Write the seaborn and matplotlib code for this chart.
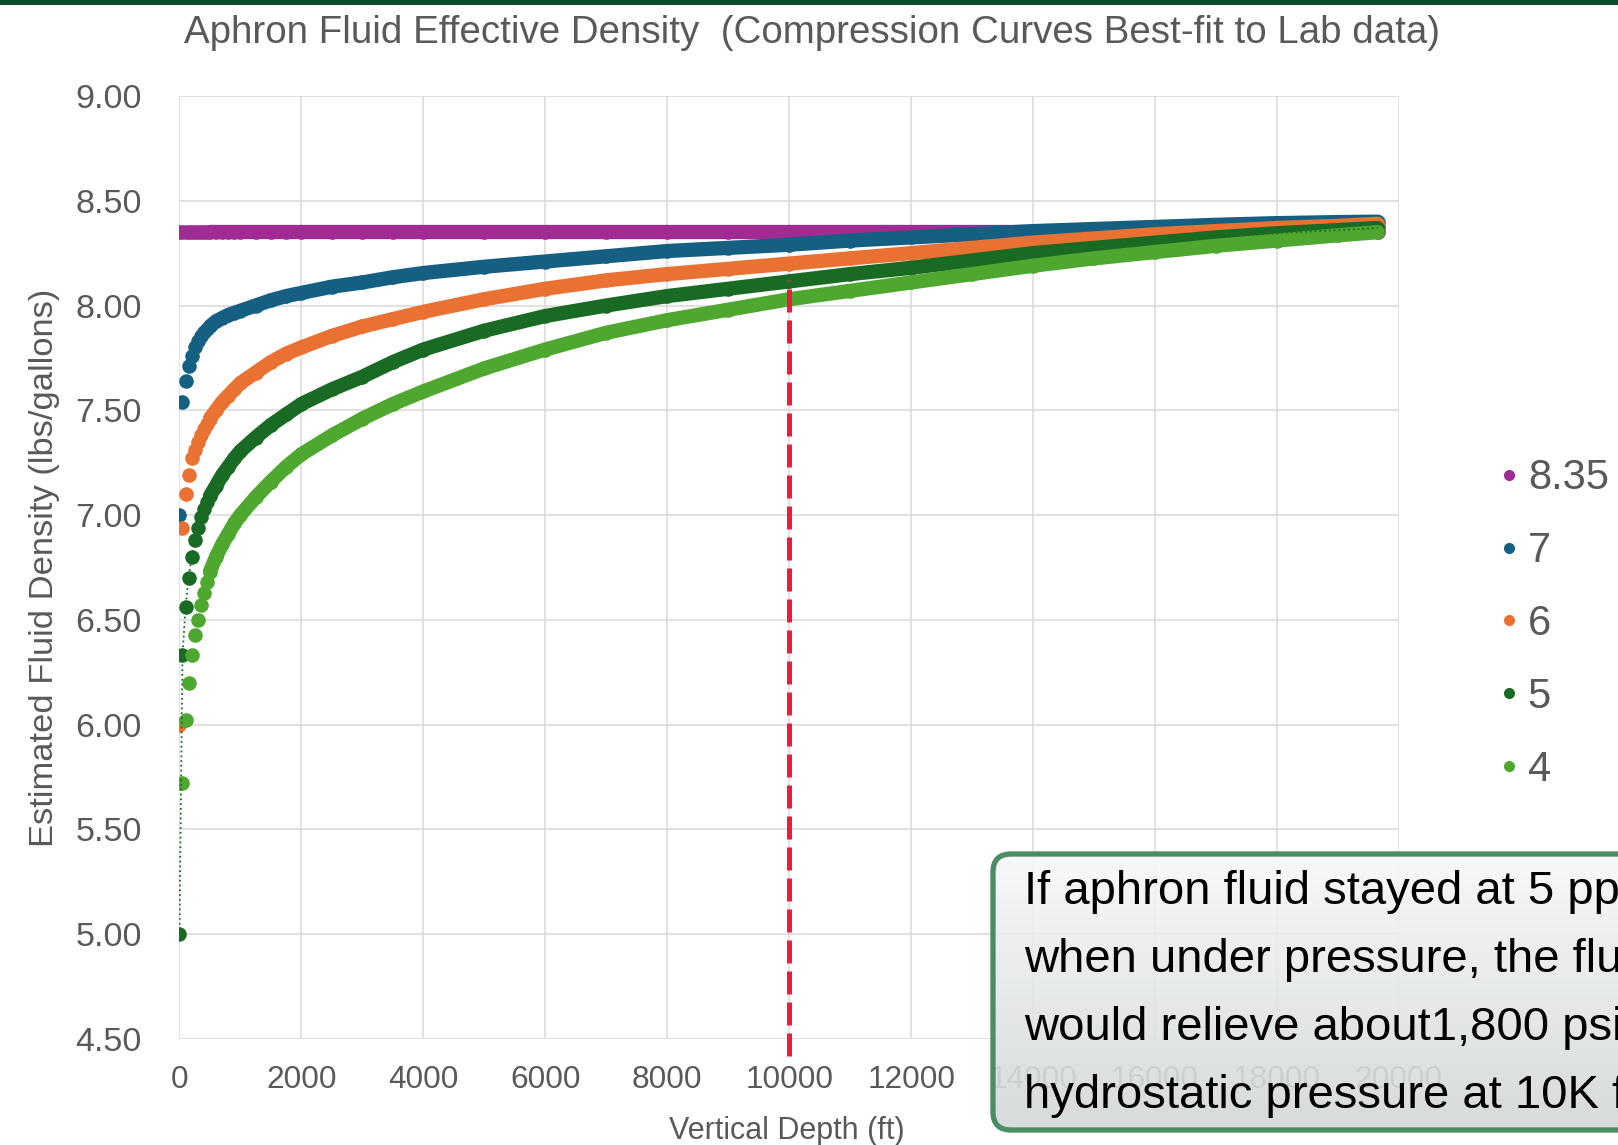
import numpy as np
import pandas as pd
import matplotlib
matplotlib.use("Agg")
import matplotlib.pyplot as plt
import seaborn as sns
from matplotlib.patches import FancyBboxPatch, Rectangle
from matplotlib.lines import Line2D
from matplotlib.colors import LinearSegmentedColormap

# depth points (ft) shared by every curve
depth_ft = [0, 50, 100, 150, 200, 250, 300, 350, 400, 450, 500,
            600, 700, 800, 900, 1000, 1250, 1500, 1750, 2000, 2500, 3000, 3500, 4000,
            5000, 6000, 7000, 8000, 9000, 10000, 11000, 12000, 13000, 14000, 15000,
            16000, 17000, 18000, 19000, 19650]

# estimated fluid density (lbs/gal), per surface density
density_7 = [7.00, 7.54, 7.64, 7.71, 7.76, 7.80, 7.83, 7.855, 7.875, 7.89, 7.90,
             7.925, 7.94, 7.955, 7.965, 7.975, 8.00, 8.025, 8.045, 8.06, 8.09, 8.11, 8.135, 8.155,
             8.185, 8.21, 8.235, 8.26, 8.275, 8.29, 8.31, 8.325, 8.34, 8.355, 8.365,
             8.375, 8.385, 8.393, 8.398, 8.40]
density_6 = [6.00, 6.94, 7.10, 7.19, 7.27, 7.31, 7.35, 7.38, 7.41, 7.435, 7.46,
             7.50, 7.54, 7.57, 7.60, 7.63, 7.68, 7.73, 7.77, 7.80, 7.855, 7.90, 7.935, 7.97,
             8.03, 8.08, 8.12, 8.15, 8.175, 8.20, 8.225, 8.25, 8.275, 8.30, 8.32,
             8.34, 8.355, 8.37, 8.38, 8.39]
density_5 = [5.00, 6.33, 6.56, 6.70, 6.80, 6.88, 6.94, 6.99, 7.03, 7.06, 7.09,
             7.14, 7.19, 7.23, 7.27, 7.305, 7.37, 7.43, 7.48, 7.53, 7.60, 7.66, 7.73, 7.79,
             7.88, 7.95, 8.00, 8.045, 8.08, 8.115, 8.15, 8.18, 8.215, 8.25, 8.275,
             8.30, 8.325, 8.345, 8.36, 8.37]
density_4 = [4.00, 5.72, 6.02, 6.20, 6.33, 6.43, 6.50, 6.57, 6.63, 6.68, 6.73,
             6.80, 6.86, 6.91, 6.96, 7.00, 7.085, 7.16, 7.23, 7.29, 7.38, 7.46, 7.53, 7.59,
             7.70, 7.79, 7.87, 7.93, 7.98, 8.03, 8.07, 8.11, 8.15, 8.19, 8.225,
             8.255, 8.285, 8.31, 8.335, 8.35]
density_835 = [8.35] * len(depth_ft)  # plain water, constant

series_labels = ["8.35", "7", "6", "5", "4"]
series_values = [density_835, density_7, density_6, density_5, density_4]
series_colors = ["#A02B93", "#156082", "#E97132", "#196B24", "#4EA72E"]

x_ticks = list(range(0, 20001, 2000))
y_ticks = [4.5, 5.0, 5.5, 6.0, 6.5, 7.0, 7.5, 8.0, 8.5, 9.0]

ref_depth = 10000
ref_bottom, ref_top = 4.42, 8.12

note_lines = ["If aphron fluid stayed at 5 ppg",
              "when under pressure, the fluid",
              "would relieve about1,800 psi of",
              "hydrostatic pressure at 10K ft."]

rows = []
for lab, vals in zip(series_labels, series_values):
    for d, v in zip(depth_ft, vals):
        rows.append((lab, d, v))
df = pd.DataFrame(rows, columns=["series", "depth", "density"])

sns.set_theme(style="whitegrid")
plt.rcParams["font.family"] = ["Liberation Sans", "DejaVu Sans"]
plt.rcParams["grid.color"] = "#d9d9d9"
plt.rcParams["grid.linewidth"] = 1.1

fig = plt.figure(figsize=(16.18, 11.45), dpi=100)
ax = fig.add_axes([0.1109, 0.0926, 0.7537, 0.8236])

gray = "#595959"
msize = 110
for lab, col in zip(series_labels, series_colors):
    sub = df[df.series == lab]
    band = sub[sub.depth >= 500]
    sns.lineplot(data=band, x="depth", y="density", ax=ax, color=col,
                 lw=10.3, estimator=None, sort=False, legend=False,
                 solid_capstyle="round")
    sns.scatterplot(data=sub, x="depth", y="density", ax=ax, color=col,
                    s=msize, linewidth=0, legend=False)
    if lab == "5":
        ax.plot(sub.depth, sub.density, ls=":", lw=1.3, color=col, zorder=6)

ax.vlines(ref_depth, ref_bottom, ref_top, colors="#ec1c3c", lw=3.6,
          linestyles=(0, (4.6, 1.6)), clip_on=False, zorder=7)

ax.set_xlim(0, 20000)
ax.set_ylim(4.5, 9.0)
ax.set_xticks(x_ticks)
ax.set_xticklabels([str(t) for t in x_ticks])
ax.set_yticks(y_ticks)
ax.set_yticklabels([f"{t:.2f}" for t in y_ticks])
ax.tick_params(axis="both", length=0, labelcolor=gray)
ax.tick_params(axis="x", pad=19, labelsize=22.8)
ax.tick_params(axis="y", pad=27, labelsize=24.5)
for sp in ax.spines.values():
    sp.set_visible(False)

ax.set_xlabel("Vertical Depth (ft)", fontsize=22, color=gray)
ax.set_ylabel("Estimated Fluid Density (lbs/gallons)", fontsize=24.8, color=gray)
ax.xaxis.set_label_coords(0.498, -0.082)
ax.yaxis.set_label_coords(-0.098, 0.5)

fig.text(0.502, 0.971, "Aphron Fluid Effective Density  (Compression Curves Best-fit to Lab data)",
         ha="center", va="center", fontsize=27.7, color=gray,
         family=["Liberation Sans Narrow", "Liberation Sans", "DejaVu Sans"])

handles = [Line2D([], [], ls="", marker="o", markersize=8, markeredgewidth=0, color=c)
           for c in series_colors]
fig.legend(handles, series_labels, loc="center left", bbox_to_anchor=(0.9262, 0.455),
           frameon=False, fontsize=30, labelcolor=gray, handlelength=0.5,
           handletextpad=0.2, labelspacing=0.79, borderpad=0, borderaxespad=0)

# overlay in pixel coordinates for the note box and the top bar
ov = fig.add_axes([0, 0, 1, 1])
ov.axis("off")
ov.add_patch(Rectangle((0, 1140), 1618, 6, color="#0b4d29", lw=0))
box = FancyBboxPatch((993, 15), 720, 276, boxstyle="round,pad=0,rounding_size=18",
                     fc="none", ec="#4a8d62", lw=3.8, zorder=3)
ov.add_patch(box)
cmap = LinearSegmentedColormap.from_list("note", ["#f7f8f8", "#d2d7d8"])
grad = np.linspace(0, 1, 256).reshape(-1, 1)
im = ov.imshow(grad, extent=(993, 1713, 15, 291), cmap=cmap, aspect="auto",
               origin="upper", alpha=0.9, zorder=2)
im.set_clip_path(box)
for i, line in enumerate(note_lines):
    ov.text(1024, 241 - 68 * i, line, fontsize=34, color="black",
            ha="left", va="baseline", zorder=4)
ov.set_xlim(0, 1618)
ov.set_ylim(0, 1145)

fig.savefig("out.png", dpi=100)
